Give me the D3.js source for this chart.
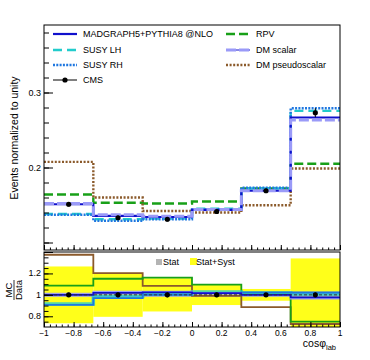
<!DOCTYPE html>
<html>
<head>
<meta charset="utf-8">
<script src="https://cdn.jsdelivr.net/npm/d3@7"></script>
<style>
  body { margin: 0; background: white; }
  text { font-family: "Liberation Sans", Arial, sans-serif; }
</style>
</head>
<body>
<div id="vis"></div>
<script>
// bin edges in cos(phi_lab)
let edges = [-1, -2/3, -1/3, 0, 1/3, 2/3, 1];

// normalized distributions
let cms       = [0.151, 0.133, 0.131, 0.1413, 0.169, 0.273];
let cmsErr    = [0.003, 0.003, 0.003, 0.003, 0.003, 0.006];
let madgraph  = [0.151, 0.1355, 0.134, 0.1435, 0.169, 0.2667];
let susyLH    = [0.138, 0.131, 0.132, 0.145, 0.172, 0.2755];
let susyRH    = [0.137, 0.129, 0.131, 0.144, 0.173, 0.279];
let rpv       = [0.164, 0.153, 0.152, 0.1547, 0.172, 0.205];
let dmScalar  = [0.152, 0.137, 0.135, 0.144, 0.169, 0.2635];
let dmPseudo  = [0.2075, 0.160, 0.142, 0.140, 0.1497, 0.1987];

// relative uncertainties for the ratio bands
let statRel = [0.02, 0.02, 0.02, 0.02, 0.02, 0.03];
let totRel  = [0.265, 0.205, 0.155, 0.095, 0.055, 0.34];

let mainTicks = [0.1, 0.2, 0.3];
let mainLabels = [0.2, 0.3];
let ratioTicks = [0.8, 1, 1.2, 1.4];
let xTicks = [-1, -0.8, -0.6, -0.4, -0.2, 0, 0.2, 0.4, 0.6, 0.8, 1];

let W = 370, H = 360;
let left = 44, right = 340;
let mainTop = 25, mainBot = 250;
let ratTop = 252, ratBot = 327;

let svg = d3.select('#vis').append('svg')
  .attr('width', W).attr('height', H)
  .style('background-color', 'white');

let x = d3.scaleLinear().domain([-1, 1]).range([left, right]);
let y = d3.scaleLinear().domain([0.09, 0.39]).range([mainBot, mainTop]);
let yr = d3.scaleLinear().domain([0.7, 1.4]).range([ratBot, ratTop]);

// clip paths
let defs = svg.append('defs');
defs.append('clipPath').attr('id', 'clipMain').append('rect')
  .attr('x', left).attr('y', mainTop).attr('width', right - left).attr('height', mainBot - mainTop);
defs.append('clipPath').attr('id', 'clipRat').append('rect')
  .attr('x', left).attr('y', ratTop).attr('width', right - left).attr('height', ratBot - ratTop);

function stepPts(vals) {
  let pts = vals.map((v, i) => [edges[i], v]);
  pts.push([edges[edges.length - 1], vals[vals.length - 1]]);
  return pts;
}
let mainLine = d3.line().x(d => x(d[0])).y(d => y(d[1])).curve(d3.curveStepAfter);
let ratLine = d3.line().x(d => x(d[0])).y(d => yr(d[1])).curve(d3.curveStepAfter);

let series = [
  { name: 'MADGRAPH5+PYTHIA8 @NLO', vals: madgraph, color: '#1010cc', dash: null, w: 2.2 },
  { name: 'SUSY LH', vals: susyLH, color: '#22cccc', dash: '9,5', w: 2.4 },
  { name: 'SUSY RH', vals: susyRH, color: '#1f77e0', dash: '2,1.3', w: 2.4 },
  { name: 'RPV', vals: rpv, color: '#18a018', dash: '9,4', w: 2.4 },
  { name: 'DM scalar', vals: dmScalar, color: '#9a9af8', dash: '10,3', w: 3 },
  { name: 'DM pseudoscalar', vals: dmPseudo, color: '#8b5a2b', dash: '2,1.6', w: 2.4 }
];
let drawOrder = [3, 5, 1, 2, 0, 4];

// ---------- main panel ----------
let gMain = svg.append('g').attr('clip-path', 'url(#clipMain)');
drawOrder.forEach(i => {
  let s = series[i];
  gMain.append('path')
    .attr('d', mainLine(stepPts(s.vals)))
    .attr('fill', 'none')
    .attr('stroke', s.color)
    .attr('stroke-width', s.w)
    .attr('stroke-dasharray', s.dash);
});

let centers = cms.map((v, i) => (edges[i] + edges[i + 1]) / 2);
gMain.selectAll('.errMain').data(cms).join('line')
  .attr('x1', (d, i) => x(centers[i])).attr('x2', (d, i) => x(centers[i]))
  .attr('y1', (d, i) => y(d - cmsErr[i])).attr('y2', (d, i) => y(d + cmsErr[i]))
  .attr('stroke', 'black').attr('stroke-width', 1);
gMain.selectAll('.ptMain').data(cms).join('circle')
  .attr('cx', (d, i) => x(centers[i])).attr('cy', d => y(d))
  .attr('r', 2.6).attr('fill', 'black');

// frame
svg.append('rect').attr('x', left).attr('y', mainTop)
  .attr('width', right - left).attr('height', mainBot - mainTop)
  .attr('fill', 'none').attr('stroke', 'black').attr('stroke-width', 1);

// y ticks main
svg.append('g').attr('transform', `translate(${left},0)`)
  .call(d3.axisLeft(y).tickValues(d3.range(0.1, 0.39, 0.02)).tickSize(-5).tickFormat(''))
  .call(g => g.select('.domain').remove());
svg.append('g').attr('transform', `translate(${left},0)`)
  .call(d3.axisLeft(y).tickValues(mainTicks).tickSize(-9).tickFormat(''))
  .call(g => g.select('.domain').remove());
svg.selectAll('.mainLab').data(mainLabels).join('text')
  .attr('x', left - 3).attr('y', d => y(d) + 3)
  .attr('text-anchor', 'end').attr('font-size', 9).text(d => d);

// x ticks main (bottom, inward)
svg.append('g').attr('transform', `translate(0,${mainBot})`)
  .call(d3.axisBottom(x).tickValues(d3.range(-1, 1.001, 0.04)).tickSize(-2.5).tickFormat(''))
  .call(g => g.select('.domain').remove());
svg.append('g').attr('transform', `translate(0,${mainBot})`)
  .call(d3.axisBottom(x).tickValues(xTicks).tickSize(-5).tickFormat(''))
  .call(g => g.select('.domain').remove());

svg.append('text')
  .attr('transform', `translate(18,138) rotate(-90)`)
  .attr('text-anchor', 'middle').attr('font-size', 10.5)
  .text('Events normalized to unity');

// legend
let legRows = [
  { s: 0, col: 0, row: 0 }, { s: 1, col: 0, row: 1 }, { s: 2, col: 0, row: 2 },
  { s: 3, col: 1, row: 0 }, { s: 4, col: 1, row: 1 }, { s: 5, col: 1, row: 2 }
];
let legX = [53, 226], legY = [34, 50, 65, 80];
legRows.forEach(r => {
  let s = series[r.s];
  let lx = legX[r.col], ly = legY[r.row];
  if (r.s === 4) {
    svg.append('line').attr('x1', lx).attr('x2', lx + 24).attr('y1', ly).attr('y2', ly)
      .attr('stroke', '#1010cc').attr('stroke-width', 1);
  }
  svg.append('line').attr('x1', lx).attr('x2', lx + 24).attr('y1', ly).attr('y2', ly)
    .attr('stroke', s.color).attr('stroke-width', s.w).attr('stroke-dasharray', s.dash);
  svg.append('text').attr('x', lx + 30).attr('y', ly + 3.2)
    .attr('font-size', 9).text(s.name);
});
svg.append('line').attr('x1', legX[0]).attr('x2', legX[0] + 24)
  .attr('y1', legY[3]).attr('y2', legY[3]).attr('stroke', 'black').attr('stroke-width', 1);
svg.append('circle').attr('cx', legX[0] + 12).attr('cy', legY[3]).attr('r', 2.6).attr('fill', 'black');
svg.append('text').attr('x', legX[0] + 30).attr('y', legY[3] + 3.2).attr('font-size', 9).text('CMS');

// ---------- ratio panel ----------
let gRat = svg.append('g').attr('clip-path', 'url(#clipRat)');
gRat.selectAll('.tot').data(totRel).join('rect')
  .attr('x', (d, i) => x(edges[i])).attr('width', (d, i) => x(edges[i + 1]) - x(edges[i]))
  .attr('y', d => yr(1 + d)).attr('height', d => yr(1 - d) - yr(1 + d))
  .attr('fill', '#ffff1a');
gRat.selectAll('.stat').data(statRel).join('rect')
  .attr('x', (d, i) => x(edges[i])).attr('width', (d, i) => x(edges[i + 1]) - x(edges[i]))
  .attr('y', d => yr(1 + d)).attr('height', d => yr(1 - d) - yr(1 + d))
  .attr('fill', '#b4b4b4');

let ratOrder = [5, 3, 1, 2, 4, 0];
ratOrder.forEach(i => {
  let s = series[i];
  let r = s.vals.map((v, k) => v / cms[k]);
  gRat.append('path')
    .attr('d', ratLine(stepPts(r)))
    .attr('fill', 'none')
    .attr('stroke', s.color)
    .attr('stroke-opacity', i === 1 ? 0.8 : 1)
    .attr('stroke-width', i === 1 ? 3.5 : 1.8);
});

gRat.append('line').attr('x1', left).attr('x2', right)
  .attr('y1', yr(1)).attr('y2', yr(1))
  .attr('stroke', '#333').attr('stroke-width', 1).attr('stroke-dasharray', '3,2');

gRat.selectAll('.errRat').data(cms).join('line')
  .attr('x1', (d, i) => x(centers[i])).attr('x2', (d, i) => x(centers[i]))
  .attr('y1', (d, i) => yr(1 - cmsErr[i] / d)).attr('y2', (d, i) => yr(1 + cmsErr[i] / d))
  .attr('stroke', 'black').attr('stroke-width', 1);
gRat.selectAll('.ptRat').data(cms).join('circle')
  .attr('cx', (d, i) => x(centers[i])).attr('cy', yr(1))
  .attr('r', 2.6).attr('fill', 'black');

svg.append('rect').attr('x', left).attr('y', ratTop)
  .attr('width', right - left).attr('height', ratBot - ratTop)
  .attr('fill', 'none').attr('stroke', 'black').attr('stroke-width', 1);

// ratio y ticks
svg.append('g').attr('transform', `translate(${left},0)`)
  .call(d3.axisLeft(yr).tickValues(d3.range(0.75, 1.4, 0.05)).tickSize(-4.5).tickFormat(''))
  .call(g => g.select('.domain').remove());
svg.append('g').attr('transform', `translate(${left},0)`)
  .call(d3.axisLeft(yr).tickValues(ratioTicks).tickSize(-9).tickFormat(''))
  .call(g => g.select('.domain').remove());
svg.selectAll('.ratLab').data([0.8, 1, 1.2]).join('text')
  .attr('x', left - 3).attr('y', d => yr(d) + 3)
  .attr('text-anchor', 'end').attr('font-size', 9).text(d => d);

// ratio x ticks + labels
svg.append('g').attr('transform', `translate(0,${ratBot})`)
  .call(d3.axisBottom(x).tickValues(d3.range(-1, 1.001, 0.04)).tickSize(-2.5).tickFormat(''))
  .call(g => g.select('.domain').remove());
svg.append('g').attr('transform', `translate(0,${ratBot})`)
  .call(d3.axisBottom(x).tickValues(xTicks).tickSize(-5).tickFormat(''))
  .call(g => g.select('.domain').remove());
svg.selectAll('.xLab').data(xTicks).join('text')
  .attr('x', d => x(d)).attr('y', ratBot + 9)
  .attr('text-anchor', 'middle').attr('font-size', 8.5)
  .text(d => d < 0 ? '\u2212' + Math.abs(d) : d);

// x title
let xt = svg.append('text').attr('x', 336).attr('y', 347)
  .attr('text-anchor', 'end').attr('font-size', 10.5);
xt.append('tspan').text('cos\u03c6');
xt.append('tspan').attr('font-size', 7.5).attr('dy', 3).text('lab');

// ratio legend
svg.append('rect').attr('x', 156).attr('y', 259).attr('width', 6).attr('height', 6).attr('fill', '#b4b4b4');
svg.append('text').attr('x', 163).attr('y', 265).attr('font-size', 9).text('Stat');
svg.append('rect').attr('x', 190).attr('y', 258).attr('width', 7).attr('height', 7).attr('fill', '#ffff1a');
svg.append('text').attr('x', 196).attr('y', 265).attr('font-size', 9).text('Stat+Syst');

// MC/Data fraction, rotated
let fr = svg.append('g').attr('transform', 'translate(14,290) rotate(-90)');
fr.append('text').attr('x', 0).attr('y', -2).attr('text-anchor', 'middle').attr('font-size', 9.5).text('MC');
fr.append('line').attr('x1', -10).attr('x2', 10).attr('y1', 0).attr('y2', 0).attr('stroke', 'black').attr('stroke-width', 0.8);
fr.append('text').attr('x', 0).attr('y', 8).attr('text-anchor', 'middle').attr('font-size', 9.5).text('Data');
</script>
</body>
</html>
